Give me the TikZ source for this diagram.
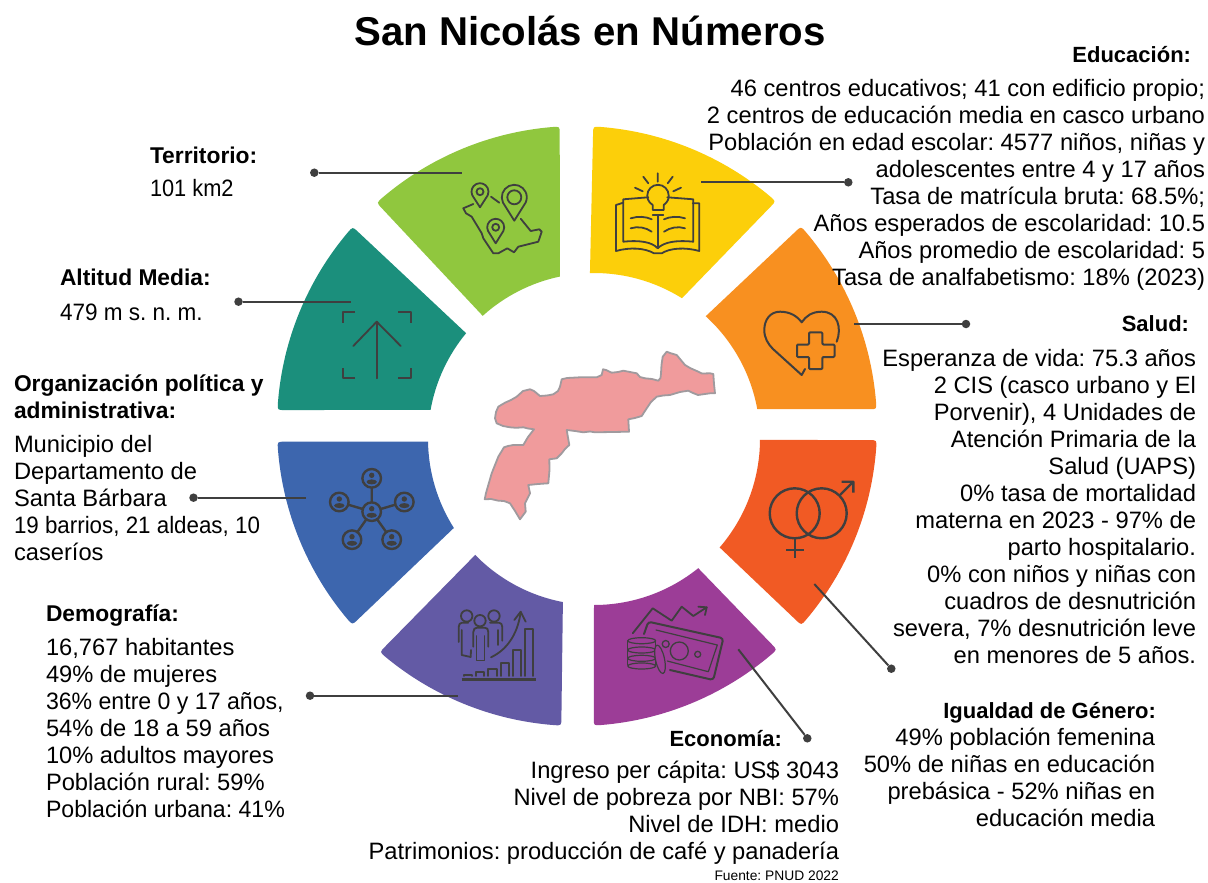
\documentclass[tikz,border=0pt]{standalone}
\usepackage{fontspec}
\setmainfont{Liberation Sans}
\usetikzlibrary{calc}
\definecolor{icn}{HTML}{3F3F3F}
\definecolor{cgreen}{HTML}{90C73E}
\definecolor{cteal}{HTML}{1B8F7C}
\definecolor{cblue}{HTML}{3D66AE}
\definecolor{cpurple}{HTML}{635AA5}
\definecolor{cmag}{HTML}{9C3D97}
\definecolor{cred}{HTML}{F15A24}
\definecolor{corange}{HTML}{F89020}
\definecolor{cyellow}{HTML}{FCCF0A}
\definecolor{cmap}{HTML}{F09B9C}
\definecolor{cmapb}{HTML}{A09A9E}
\frenchspacing
\newcommand\squeezeline[2]{\scalebox{#1}[1]{#2}}
\tikzset{
  txtbase/.style={inner sep=0pt,outer sep=0pt,text=black,execute at begin node={\rule{0pt}{17pt}}},
  bodyr/.style={txtbase,anchor=north east,align=right,font=\fontsize{23.7}{27}\selectfont\frenchspacing},
  bodyl/.style={txtbase,anchor=north west,align=left,font=\fontsize{23.7}{27}\selectfont\frenchspacing},
  headr/.style={txtbase,anchor=north east,align=right,font=\fontsize{22}{27}\selectfont\bfseries},
  headl/.style={txtbase,anchor=north west,align=left,font=\fontsize{22.8}{27}\selectfont\bfseries},
  dotn/.style={circle,fill=icn,inner sep=0pt,minimum size=8.5pt},
  conn/.style={draw=icn,line width=2pt},
  ic/.style={draw=icn,line width=1.8pt,line join=round,line cap=round},
  icb/.style={draw=icn,line width=2.4pt,line join=round},
}
% colour, outer start A, outer end B, inner angle at B side, inner angle at A side
\newcommand\wedgeshape[5]{%
  \coordinate (wA) at ($(577,426)+(#2:300)$);
  \coordinate (wB) at ($(577,426)+(#3:300)$);
  \coordinate (wE) at ($(594,439)+(#4:166)$);
  \coordinate (wD) at ($(594,439)+(#5:166)$);
  \fill[#1] ($(wA)!7pt!(wD)$) .. controls (wA) .. ($(577,426)+(#2+1.4:300)$)
    arc[start angle=#2+1.4,end angle=#3-1.4,radius=300]
    .. controls (wB) .. ($(wB)!7pt!(wE)$) -- (wE)
    arc[start angle=#4,end angle=#5,radius=166] -- cycle;
}
\newcommand\pinicon[5]{% cx cy r tipy innerr
  \draw[ic] (#1,#4) -- ($(#1,#2)+(155:#3)$) arc[start angle=155,end angle=385,radius=#3] -- cycle;
  \draw[ic] (#1,#2) circle[radius=#5];
}
\newcommand\persondraw[2]{%
  \filldraw[icb,fill=cblue] (#1,#2) circle[radius=9.3];
  \fill[icn] (#1,#2-3) circle[radius=2.7];
  \fill[icn] (#1,#2+3.6) ellipse[x radius=5.2,y radius=2.5];
}
\begin{document}
\begin{tikzpicture}[x=1pt,y=1pt,yscale=-1]
\useasboundingbox (0,0) rectangle (1208,883);
\fill[white] (0,0) rectangle (1208,883);

% Wedges
\wedgeshape{cgreen}{228.1}{266.7}{258.1}{227.9}
\wedgeshape{cteal}{183.05}{221.6}{219.6}{190.1}
\wedgeshape{cblue}{138.5}{177}{179.1}{147.6}
\wedgeshape{cpurple}{93}{131.1}{135.7}{100.8}
\wedgeshape{cmag}{48.2}{86.8}{90}{51.1}
\wedgeshape{cred}{2.7}{41.6}{40.8}{0.3}
\wedgeshape{corange}{-41.7}{-3.2}{-10.4}{-47.7}
\wedgeshape{cyellow}{-86.9}{-48.5}{-58}{-91.4}

% Map
\filldraw[fill=cmap,draw=cmapb,line width=1.8pt,line join=round]
 (484.7,499.3)--(486,493)--(491.7,473.3)--(495,465)--(498.3,456.7)--(504,447.3)--(508,446)--(513.3,445)--(523.3,445)--(528,437)--(534,429.3)--(528,428.5)--(523.3,427.3)--(516,427.8)--(510,427.3)--(503,426)--(496.7,423.3)--(495,418.3)--(496,412)--(498.3,406.7)--(505,402.7)--(511,400)--(516.7,396.7)--(523,391)--(530,389.3)--(534,391)--(540,396)--(547,395.5)--(553.3,394.3)--(558,391)--(560,386.7)--(561.7,379.3)--(567,378)--(580,377.3)--(596.7,377.3)--(601.7,375)--(603,369.3)--(606,370)--(611.7,372.7)--(618,372)--(623.3,370.7)--(636.7,373.3)--(640,377)--(645,378.3)--(652,379)--(658.3,380.7)--(660.5,378)--(661,373.3)--(661.5,365)--(662.7,356.7)--(666.7,351.7)--(670,353)--(676.7,355)--(680,359)--(685,365)--(690,368)--(698.3,371.7)--(702,373.5)--(710,373.3)--(713.3,374)--(714,384)--(715,393.3)--(710,393.3)--(698,395)--(693,393)--(688.3,390.7)--(680,392)--(670,395)--(663,395.5)--(656.7,396.7)--(651,402)--(646.7,408.3)--(641.7,416)--(635,418)--(628.3,419.3)--(629,431.7)--(612,432)--(595,432.3)--(590,431.5)--(583.3,432.3)--(575,431)--(566.7,430)--(569.3,445)--(565,449)--(561.7,453.3)--(556.7,458.3)--(549.3,459.3)--(549.5,470)--(548.3,483.3)--(538,484)--(528.3,485)--(530,493.3)--(525,503.3)--(525.7,511.7)--(520,519.3)--(515,511)--(510,503.3)--(504,501)--(498.3,500.7)--(491,499)--cycle;

% Icon: territory
\pinicon{480}{191.7}{8.5}{207.3}{3.5}
\pinicon{514.3}{197.3}{12.5}{220.7}{7}
\pinicon{495.7}{227.3}{8.5}{243.3}{3.5}
\draw[ic] (491,196.7)--(499.3,202.7);
\draw[ic] (520.7,218.7)--(530.7,231)--(539.3,229.3)--(541.7,231.7)--(538.3,241.7)--(518.3,246.7)--(514,252.3)--(507.3,248.3)--(498.3,253.3)--(493.3,253.3)--(483.3,238.3)--(481.7,233.3)--(471.7,216.7)--(466,213.3)--(463.3,208.3)--(473.3,204);

% Icon: altitude
\draw[ic,line cap=butt] (355,311.7)-|(343.3,323.3);
\draw[ic,line cap=butt] (398.3,311.7)-|(410.7,323.3);
\draw[ic,line cap=butt] (355,378.3)-|(343.3,368.3);
\draw[ic,line cap=butt] (398.3,378.3)-|(410.7,368.3);
\draw[ic] (376.7,378.3)--(376.7,321.7);
\draw[ic] (353.3,346)--(376.7,321.7)--(400.7,346);

% Icon: network
\draw[icb] (371.7,511.7)--(371.7,478.3) (371.7,511.7)--(339.3,502) (371.7,511.7)--(404.3,502) (371.7,511.7)--(352,539.7) (371.7,511.7)--(391.7,539.7);
\persondraw{371.7}{511.7}
\persondraw{371.7}{478.3}
\persondraw{339.3}{502}
\persondraw{404.3}{502}
\persondraw{352}{539.7}
\persondraw{391.7}{539.7}

% Icon: demography
\draw[icb] (461.7,679.3)--(535.7,679.3);
\draw[ic] (464,676)--(464,675)--(472.3,675)--(472.3,676);
\draw[ic] (476,676)--(476,671.7)--(484.3,671.7)--(484.3,676);
\draw[ic] (488.3,676)--(488.3,669)--(496.7,669)--(496.7,676);
\draw[ic] (500.7,676)--(500.7,662.7)--(508.7,662.7)--(508.7,676);
\draw[ic] (512.7,676)--(512.7,650)--(520.7,650)--(520.7,676);
\draw[ic] (525,676)--(525,628.7)--(533.3,628.7)--(533.3,676);
\draw[ic] (491,657.3) .. controls (510,648.3) and (518.3,630) .. (520.7,612);
\draw[ic] (514.3,620)--(520.7,611.7)--(525.7,621.7);
\draw[ic] (466.7,616) circle[radius=5.7];
\draw[ic] (494,616) circle[radius=5.7];
\filldraw[ic,fill=cpurple] (480,620.7) circle[radius=5.7];
\draw[ic] (473.3,646.7)--(473.3,632)..controls (473.3,629) and (475,627.7)..(477,627.7)--(484.7,627.7)..controls (487,627.7) and (488.3,629)..(488.3,632)--(488.3,646.7);
\draw[ic] (476.5,636)--(476.5,660.5)--(484.5,660.5)--(484.5,636);
\draw[ic] (468.3,622.7)--(462,622.7)..controls (460,622.7) and (458.7,624.5)..(458.7,627)--(458.7,642);
\draw[ic] (461.7,630)--(461.7,655)--(470.7,657)--(471,650);
\draw[ic] (490,622.7)--(499,622.7)..controls (501,622.7) and (502.3,624.5)..(502.3,627)--(502.3,640.7);
\draw[ic] (498.3,630)--(498.3,645);

% Icon: economy
\draw[ic] (632.7,633.3)--(652.7,608.3)--(671.7,620.7)--(681.7,606.7)--(693.3,616)--(706.7,607.3);
\draw[ic] (698.3,606.7)--(706.7,607.3)--(705,615);
\draw[ic,rounded corners=3pt,line width=2pt] (644,634)--(648.3,621.7)--(723.3,638.3)--(713.3,680)--(670,670);
\draw[ic,line width=1.2pt] (656,630)--(717.3,645)--(708.3,671.7)--(667.3,661);
\draw[ic,line width=1.3pt] (679.3,651) circle[radius=9] (665.7,644) circle[radius=3.5] (697.7,654.3) circle[radius=3];
\draw[ic,line width=1.2pt] (627.7,640.7) -- (627.7,665) (655.7,640.7) -- (655.7,665);
\foreach \cy in {640.7,650,658.3,666}
  \draw[ic,line width=1.2pt] (641.7,\cy) ellipse[x radius=14,y radius=3];
\filldraw[ic,line width=1.2pt,fill=cmag] (660,659.3) ellipse[x radius=4.5,y radius=14.5,rotate=-12];

% Icon: gender
\draw[icb] (794.7,513.3) circle[radius=25];
\draw[icb] (821.7,513.3) circle[radius=25];
\draw[icb] (794.7,538.3)--(794.7,558.3) (786,550)--(804,550);
\draw[icb] (840,495)--(853.3,481.7) (841.7,481.7)--(853.3,481.7)--(853.3,492.7);

% Icon: health
\draw[ic,line width=2pt] (836.7,341.7) .. controls (842,328) and (838,311.7) .. (821.7,311.7) .. controls (812,311.7) and (806,316) .. (801.7,322.3) .. controls (797,316) and (790,311.7) .. (780,311.7) .. controls (770,311.7) and (764.3,320) .. (764.3,330) .. controls (764.3,338) and (768,344) .. (773,349) -- (801.7,375) -- (805,369);
\filldraw[ic,line width=2pt,rounded corners=1pt,fill=corange] (809,332.4)--(822.4,332.4)--(822.4,344.5)--(834.5,344.5)--(834.5,357)--(822.4,357)--(822.4,369)--(809,369)--(809,357)--(797,357)--(797,344.5)--(809,344.5)--cycle;

% Icon: education
\draw[ic] (657.7,173.3)--(657.7,181.7) (643.3,176.7)--(648.3,183.3) (672.7,176.7)--(667.7,183.3) (635,187.7)--(642.7,191.3) (681,187.7)--(673.3,191.3);
\draw[ic] (652.7,210)--(652.7,205) .. controls (648,202) and (647.3,198) .. (647.3,195.5) arc[start angle=180,end angle=360,radius=10.7] .. controls (669,198) and (668,202) .. (663.7,205) -- (663.7,210)--cycle;
\draw[ic] (652.7,215)--(663.3,215);
\draw[ic] (648.3,197.3)--(623.3,199.3)--(623.3,241.7) .. controls (640,240) and (652,242) .. (657.7,248.3) .. controls (664,242) and (676,240) .. (693.3,241.7)--(693.3,199.3)--(667.3,197.3);
\draw[ic] (623.3,202.7)--(616,205)--(616,251) .. controls (630,247) and (645,248) .. (654,253.3)--(661.7,253.3) .. controls (670,248) and (685,247) .. (699.3,251)--(699.3,203.3)--(692.7,203.3);
\draw[ic] (657.7,215)--(657.7,248.3);
\draw[ic] (630.7,218.3) .. controls (638,216) and (646,216.5) .. (651.7,219.3);
\draw[ic] (630.7,228.3) .. controls (638,226) and (646,227.5) .. (651.7,231.7);
\draw[ic] (664,219.3) .. controls (670,216.5) and (678,216) .. (685,218.3);
\draw[ic] (664,231.7) .. controls (670,227.5) and (678,226) .. (685,228.3);

% Connectors
\node[dotn] (dterr) at (314.3,172.7) {};
\coordinate (eterr) at (462.3,172.7);
\draw[conn] (dterr)--(eterr);
\node[dotn] (dalt) at (238.5,301.7) {};
\coordinate (ealt) at (350.7,301.7);
\draw[conn] (dalt)--(ealt);
\node[dotn] (dorg) at (193.5,497.7) {};
\coordinate (eorg) at (306,497.7);
\draw[conn] (dorg)--(eorg);
\node[dotn] (ddem) at (310,695.7) {};
\coordinate (edem) at (457.7,695.7);
\draw[conn] (ddem)--(edem);
\node[dotn] (deco) at (807.3,738.3) {};
\coordinate (eeco) at (738.3,649.3);
\draw[conn] (deco)--(eeco);
\node[dotn] (dgen) at (891.3,668.7) {};
\coordinate (egen) at (814.3,584);
\draw[conn] (dgen)--(egen);
\node[dotn] (dsal) at (966,324) {};
\coordinate (esal) at (854,324);
\draw[conn] (dsal)--(esal);
\node[dotn] (dedu) at (848.3,182.3) {};
\coordinate (eedu) at (700.7,182.3);
\draw[conn] (dedu)--(eedu);

% Texts
\node[inner sep=0pt,anchor=base,font=\fontsize{40.2}{40}\selectfont\bfseries] (title) at (590,46) {San Nicolás en Números};

\node[headr] (hedu) at (1191,46) {Educación:};
\node[bodyr] (bedu) at (1205,79) {46 centros educativos; 41 con edificio propio;\hspace{7pt}\\2 centros de educación media en casco urbano\\Población en edad escolar: 4577 niños, niñas y\\adolescentes entre 4 y 17 años\\Tasa de matrícula bruta: 68.5\%;\\Años esperados de escolaridad: 10.5\\Años promedio de escolaridad: 5\\Tasa de analfabetismo: 18\% (2023)};

\node[headr] (hsal) at (1189,314) {Salud:};
\node[bodyr] (bsal) at (1196,349) {Esperanza de vida: 75.3 años\\2 CIS (casco urbano y El\\Porvenir), 4 Unidades de\\Atención Primaria de la\\Salud (UAPS)\\0\% tasa de mortalidad\\materna en 2023 - 97\% de\\parto hospitalario.\\0\% con niños y niñas con\\cuadros de desnutrición\\severa, 7\% desnutrición leve\\en menores de 5 años.};

\node[headr] (hgen) at (1156,701) {Igualdad de Género:};
\node[bodyr] (bgen) at (1155,728) {49\% población femenina\\50\% de niñas en educación\\prebásica - 52\% niñas en\\educación media};

\node[headr] (heco) at (782,729) {Economía:};
\node[bodyr] (beco) at (839,761) {Ingreso per cápita: US\$ 3043\\Nivel de pobreza por NBI: 57\%\\Nivel de IDH: medio\\Patrimonios: producción de café y panadería};
\node[inner sep=0pt,anchor=base east,font=\fontsize{13.8}{14}\selectfont] (fuente) at (839,880) {Fuente: PNUD 2022};

\node[headl] (hter) at (150,146) {Territorio:};
\node[bodyl] (bter) at (150,179) {\squeezeline{0.92}{101 km2}};
\node[headl] (halt) at (60,268) {Altitud Media:};
\node[bodyl] (balt) at (60,303) {\squeezeline{0.95}{479 m s. n. m.}};
\node[headl] (horg) at (14,375) {Organización política y\\administrativa:};
\node[bodyl] (borg) at (14,435) {Municipio del\\Departamento de\\Santa Bárbara\\\squeezeline{0.943}{19 barrios, 21 aldeas, 10}\\caseríos};
\node[headl] (hdem) at (46,604) {Demografía:};
\node[bodyl] (bdem) at (46,638) {16,767 habitantes\\49\% de mujeres\\\squeezeline{0.975}{36\% entre 0 y 17 años,}\\54\% de 18 a 59 años\\10\% adultos mayores\\Población rural: 59\%\\\squeezeline{0.975}{Población urbana: 41\%}};
\end{tikzpicture}
\end{document}
